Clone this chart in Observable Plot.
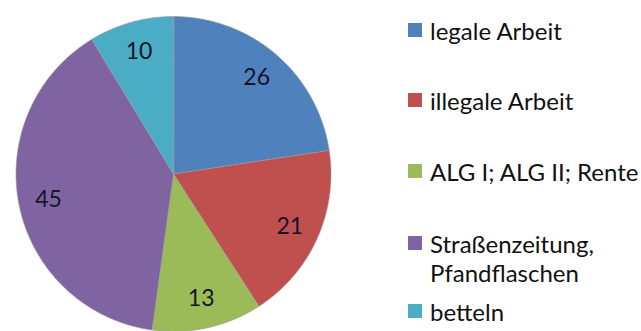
<!DOCTYPE html>
<html><head><meta charset="utf-8">
<script src="https://cdn.jsdelivr.net/npm/d3@7"></script>
<script src="https://cdn.jsdelivr.net/npm/@observablehq/plot@0.6"></script>
<style>
body{margin:0;background:#fff;}
#wrap{position:relative;width:641px;height:331px;overflow:hidden;font-family:Lato,"Open Sans",sans-serif;}
#chart{position:absolute;left:0;top:0;}
#legend{position:absolute;left:408px;top:0;}
.leg{position:absolute;left:0;display:flex;align-items:flex-start;font-size:24px;color:#111;line-height:29px;white-space:pre;}
.sw{width:14px;height:14px;margin-top:7.5px;margin-right:8px;flex:none;}
</style></head><body>
<div id="wrap"><div id="chart"></div><div id="legend"></div></div>
<script>
const categories = ["legale Arbeit", "illegale Arbeit", "ALG I; ALG II; Rente", "Straßenzeitung,\nPfandflaschen", "betteln"];
const values = [26, 21, 13, 45, 10];
const colors = ["#4F81BD", "#C0504D", "#9BBB59", "#8064A2", "#4BACC6"];

const arcs = d3.pie().sort(null).value(d => d)(values);
const slices = arcs.map((a, i) => {
  const n = Math.max(2, Math.ceil((a.endAngle - a.startAngle) / 0.01));
  const ring = [[0, 0]];
  for (let k = 0; k <= n; k++) {
    const t = a.startAngle + (a.endAngle - a.startAngle) * k / n;
    ring.push([Math.sin(t), -Math.cos(t)]);
  }
  ring.push([0, 0]);
  return {type: "Feature", properties: {category: categories[i], value: values[i]},
          geometry: {type: "Polygon", coordinates: [ring]}};
});
const labelR = 0.81;
const mid = a => (a.startAngle + a.endAngle) / 2;

const chart = Plot.plot({
  width: 395, height: 331,
  marginLeft: 15, marginRight: 64, marginTop: 16, marginBottom: 0,
  projection: {type: "identity", domain: {type: "MultiPoint", coordinates: [[-1, -1], [1, 1]]}},
  color: {domain: categories, range: colors},
  style: {background: "transparent"},
  marks: [
    Plot.geo(slices, {fill: d => d.properties.category, stroke: "#9a9a9a", strokeWidth: 0.6}),
    Plot.text(arcs, {x: a => labelR * Math.sin(mid(a)), y: a => -labelR * Math.cos(mid(a)),
      text: a => String(a.data), fontSize: 23, fontFamily: "Lato", fill: "#141428"})
  ]
});
document.getElementById("chart").append(chart);

const rowCenters = [30, 100, 171, 243, 311];
const legend = document.getElementById("legend");
categories.forEach((c, i) => {
  const item = document.createElement("div");
  item.className = "leg";
  item.style.top = (rowCenters[i] - 14.5) + "px";
  const sw = document.createElement("span");
  sw.className = "sw";
  sw.style.background = colors[i];
  const tx = document.createElement("span");
  tx.textContent = c;
  item.append(sw, tx);
  legend.append(item);
});
</script>
</body></html>
